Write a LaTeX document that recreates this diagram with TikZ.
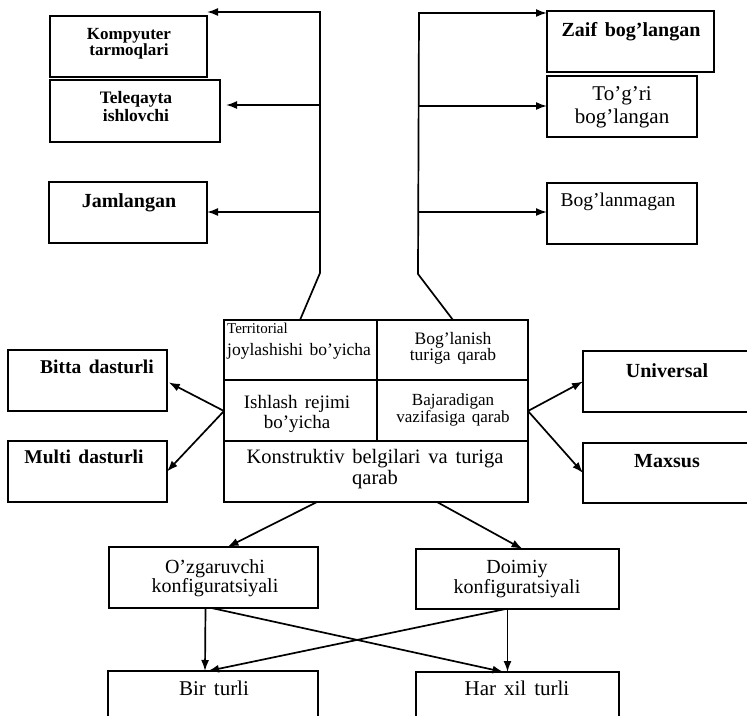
\documentclass[tikz,border=0pt]{standalone}
\usepackage{fontspec}
\setmainfont{Liberation Serif}
\usetikzlibrary{arrows.meta,calc}
% font size helper with slightly wider word spaces
\newcommand\fs[1]{\fontsize{#1}{#1}\selectfont\spaceskip=.38em plus .1em\relax}
\tikzset{
  box/.style={draw, line width=1.7pt, inner sep=0pt, outer sep=0pt},
  lbl/.style={anchor=base, inner sep=0pt},
  conn/.style={line width=1.7pt},
  arr/.style={conn, -{Latex[length=11pt,width=8pt]}},
}
% \mkbox{name}{x1}{y1}{x2}{y2}
\newcommand\mkbox[5]{\node[box, minimum width={#4pt-#2pt}, minimum height={#5pt-#3pt}] (#1) at ({(#2+#4)/2},{(#3+#5)/2}) {};}
% \tl{name}{x}{y}{font}{text}
\newcommand\tl[5]{\node[lbl, font={#4}] (#1) at (#2,#3) {#5};}
\begin{document}
\begin{tikzpicture}[x=1pt, y=-1pt]
\useasboundingbox (0,0) rectangle (747,715);
\clip (0,0) rectangle (747,715);

% ---- boxes ----
\mkbox{komp}{50}{16}{207}{77}
\mkbox{tele}{50}{80}{220}{142}
\mkbox{jam}{49}{182}{207}{243}
\mkbox{zaif}{547}{11}{714}{72}
\mkbox{togri}{547}{76}{697}{137}
\mkbox{bogl}{547}{183}{697}{244}
\mkbox{cb}{224}{320}{528}{502}
\draw[line width=1.7pt] (224,380) -- (528,380) (224,441) -- (528,441) (377,320) -- (377,441);
\mkbox{bitta}{8}{350}{167}{411}
\mkbox{multi}{8}{441}{167}{502}
\mkbox{univ}{583}{351}{752}{412}
\mkbox{maxs}{583}{443}{752}{503}
\mkbox{ozg}{109}{547}{318}{608}
\mkbox{doim}{416}{549}{619}{609}
\mkbox{bir}{108}{671}{318}{730}
\mkbox{har}{416}{672}{619}{730}

% ---- texts ----
\tl{komp1}{129}{39}{\fs{17}\bfseries}{Kompyuter}
\tl{komp2}{129}{55}{\fs{17}\bfseries}{tarmoqlari}
\tl{tele1}{136}{103}{\fs{17.5}\bfseries}{Teleqayta}
\tl{tele2}{136}{121}{\fs{17.5}\bfseries}{ishlovchi}
\tl{jam1}{129}{207}{\fs{20}\bfseries}{Jamlangan}
\tl{zaif1}{631}{36}{\fs{20}\bfseries}{Zaif bog’langan}
\tl{togri1}{622}{100}{\fs{21}}{To’g’ri}
\tl{togri2}{622}{123}{\fs{21}}{bog’langan}
\tl{bogl1}{618}{206}{\fs{19.5}}{Bog’lanmagan}
\node[lbl, anchor=base west, font={\fs{15}}] (terr1) at (227,333) {Territorial};
\node[lbl, anchor=base west, font={\fs{17.5}}] (terr2) at (227,355) {joylashishi bo’yicha};
\tl{bogn1}{453}{344}{\fs{17.5}}{Bog’lanish}
\tl{bogn2}{453}{360}{\fs{17.5}}{turiga qarab}
\tl{ish1}{297}{408}{\fs{19}}{Ishlash rejimi}
\tl{ish2}{297}{428}{\fs{19}}{bo’yicha}
\tl{baj1}{453}{405}{\fs{17}}{Bajaradigan}
\tl{baj2}{453}{422}{\fs{17}}{vazifasiga qarab}
\tl{kon1}{375}{463}{\fs{20.5}}{Konstruktiv belgilari va turiga}
\tl{kon2}{375}{484}{\fs{20.5}}{qarab}
\tl{bitta1}{97}{373}{\fs{19.5}\bfseries}{Bitta dasturli}
\tl{multi1}{84}{463}{\fs{19.5}\bfseries}{Multi dasturli}
\tl{univ1}{667}{377}{\fs{20}\bfseries}{Universal}
\tl{maxs1}{667}{467}{\fs{20}\bfseries}{Maxsus}
\tl{ozg1}{215}{573}{\fs{20}}{O’zgaruvchi}
\tl{ozg2}{215}{592}{\fs{20}}{konfiguratsiyali}
\tl{doim1}{517}{573}{\fs{20}}{Doimiy}
\tl{doim2}{517}{593}{\fs{20}}{konfiguratsiyali}
\tl{bir1}{214}{695}{\fs{21}}{Bir turli}
\tl{har1}{517}{695}{\fs{21}}{Har xil turli}

% ---- left trunk ----
\coordinate (lt0) at (300,320);
\coordinate (lt1) at (320,273);
\coordinate (lt2) at (320,12);
\coordinate (lb1) at (320,105);
\coordinate (lb2) at (320,212);
\draw[arr] (lt0) -- (lt1) -- (lt2) -- (komp.north east |- lt2);
\draw[arr, shorten >=6pt] (lb1) -- (tele.east |- lb1);
\draw[arr] (lb2) -- (jam.east |- lb2);

% ---- right trunk ----
\coordinate (rt0) at (453,320);
\coordinate (rt1) at (418,274);
\coordinate (rt2) at (419,13);
\coordinate (rb1) at (419,106);
\coordinate (rb2) at (419,212);
\draw[arr] (rt0) -- (rt1) -- (rt2) -- (zaif.west |- rt2);
\draw[arr] (rb1) -- (togri.west |- rb1);
\draw[arr] (rb2) -- (bogl.west |- rb2);

% ---- side branches ----
\draw[arr, shorten >=2pt] (cb.west) -- ($(bitta.east)+(0,1)$);
\draw[arr] (cb.west) -- (multi.east);
\draw[arr] (cb.east) -- (univ.west);
\draw[arr] (cb.east) -- (maxs.west);

% ---- lower part ----
\draw[arr] ($(cb.south)+(-59,0)$) -- ($(ozg.north)+(14,0)$);
\draw[arr] ($(cb.south)+(61,0)$) -- ($(doim.north)+(5,0)$);
\draw[arr] ($(ozg.south)+(-8,0)$) -- ($(bir.north)+(-8,0)$);
\draw[arr] ($(doim.south)+(-10,0)$) -- ($(har.north)+(-10,0)$);
\draw[arr] ($(ozg.south)+(-2,0)$) -- ($(har.north)+(-14,0)$);
\draw[arr] ($(doim.south)+(-12,0)$) -- ($(bir.north)+(-5,0)$);
\end{tikzpicture}
\end{document}
